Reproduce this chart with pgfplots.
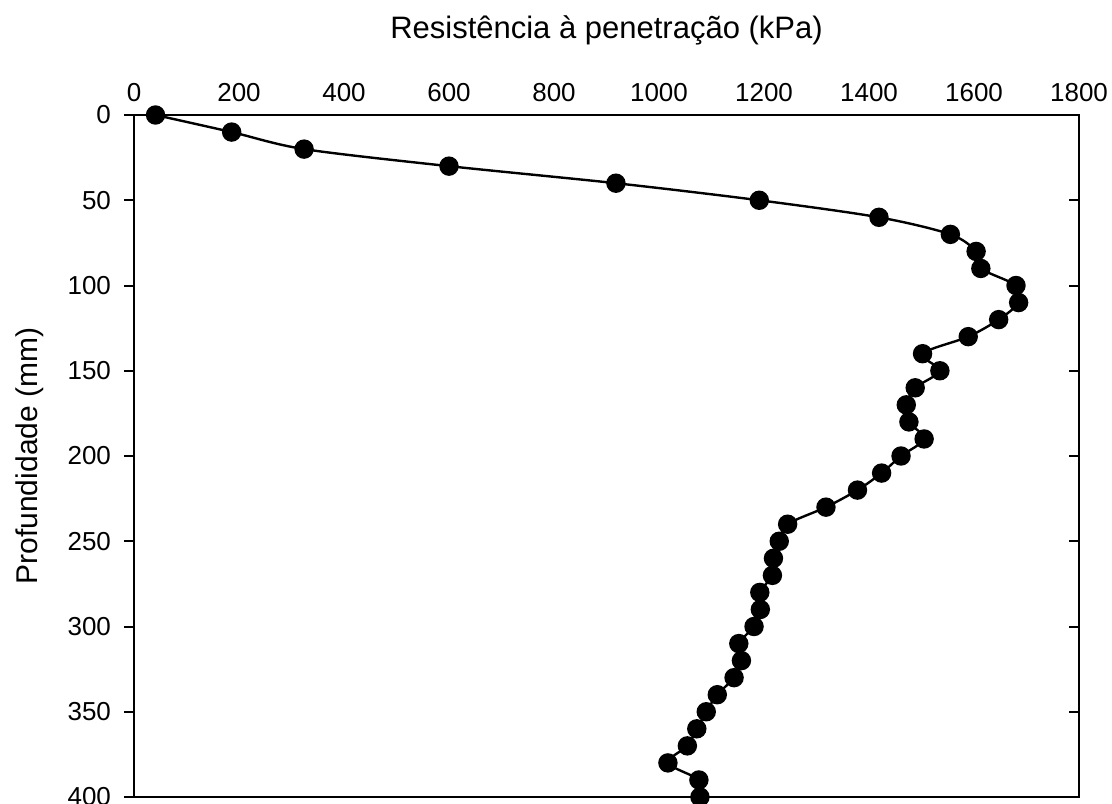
\documentclass[border=0pt]{standalone}
\usepackage{fontspec}
\setmainfont{Liberation Sans}
\usepackage{pgfplots}
\usepackage{pgfplotstable}
\pgfplotsset{compat=1.18}

% Penetration resistance (kPa) against depth (mm)
\pgfplotstableread{
depth resist
0   41
10  186
20  324
30  600
40  918
50  1191
60  1419
70  1555
80  1604
90  1613
100 1680
110 1685
120 1647
130 1589
140 1502
150 1535
160 1488
170 1471
180 1476
190 1505
200 1461
210 1424
220 1378
230 1318
240 1245
250 1229
260 1218
270 1216
280 1192
290 1193
300 1181
310 1152
320 1157
330 1143
340 1111
350 1090
360 1072
370 1054
380 1017
390 1076
400 1078
}\profile

\begin{document}
\begin{tikzpicture}
\begin{axis}[
  name=main,
  scale only axis,
  width=472.5pt, height=341pt,
  xmin=0, xmax=1800, ymin=0, ymax=400,
  y dir=reverse,
  clip=false,
  axis line style={line width=1pt},
  xtick={0,200,...,1800},
  xticklabel pos=top,
  xtick style={draw=none},
  ytick={0,50,...,400},
  ytick pos=left,
  tick align=outside,
  major tick length=5pt,
  ytick style={line width=1pt, black},
  scaled x ticks=false,
  /pgf/number format/1000 sep={},
  /pgf/number format/assume math mode=true,
  tick label style={font=\fontsize{13}{15}\selectfont},
  xticklabel style={yshift=-2pt},
  yticklabel style={xshift=-3pt},
  xlabel={Resistência à penetração (kPa)},
  xlabel style={at={(axis description cs:0.5,1.112)}, anchor=base,
                font=\fontsize{15.5}{18}\selectfont},
  ylabel={Profundidade (mm)},
  ylabel style={at={(axis description cs:-0.110,0.5)}, anchor=center,
                font=\fontsize{15}{18}\selectfont},
]
\addplot[black, line width=1.2pt, smooth, mark=*, mark size=4.25pt,
         mark options={solid, fill=black}]
  table[x=resist, y=depth] {\profile};
\end{axis}
% inward ticks on the right-hand side
\begin{axis}[
  scale only axis,
  width=472.5pt, height=341pt,
  xmin=0, xmax=1800, ymin=0, ymax=400,
  y dir=reverse,
  axis x line=none,
  axis y line*=right,
  axis line style={line width=1pt},
  ytick={0,50,...,400},
  yticklabels={},
  tick align=inside,
  major tick length=5pt,
  ytick style={line width=1pt, black},
]
\end{axis}
\pgfresetboundingbox
\path[use as bounding box] ([xshift=-67pt,yshift=-3.25pt]main.south west)
  rectangle ([xshift=16.5pt,yshift=57.5pt]main.north east);
\end{tikzpicture}
\end{document}
